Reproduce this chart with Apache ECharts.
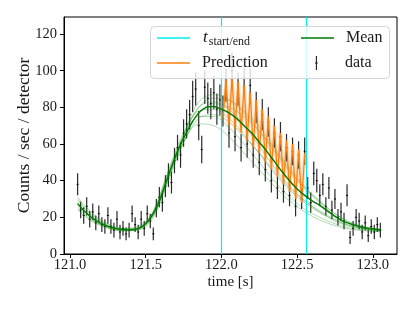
<!DOCTYPE html>
<html>
<head>
<meta charset="utf-8">
<script src="https://cdn.jsdelivr.net/npm/echarts@6/dist/echarts.min.js"></script>
<style>html,body{margin:0;padding:0;background:#fff}#c{width:415px;height:311px}</style>
</head>
<body>
<div id="c"></div>
<script>
// ---- data ----
const times = [121.05,121.07,121.09,121.11,121.13,121.15,121.17,121.19,121.21,121.23,
121.25,121.27,121.29,121.31,121.33,121.35,121.37,121.39,121.41,121.43,
121.45,121.47,121.49,121.51,121.53,121.55,121.57,121.59,121.61,121.63,
121.65,121.67,121.69,121.71,121.73,121.75,121.77,121.79,121.81,121.83,
121.85,121.87,121.89,121.91,121.93,121.95,121.97,121.99,122.01,122.03,
122.05,122.07,122.09,122.11,122.13,122.15,122.17,122.19,122.21,122.23,
122.25,122.27,122.29,122.31,122.33,122.35,122.37,122.39,122.41,122.43,
122.45,122.47,122.49,122.51,122.53,122.55,122.57,122.59,122.61,122.63,
122.65,122.67,122.69,122.71,122.73,122.75,122.77,122.79,122.81,122.83,
122.85,122.87,122.89,122.91,122.93,122.95,122.97,122.99,123.01,123.03,123.05];
const counts = [38,24,21,26,19,23,17,22,16,15,
21,15,13,19,12,14,11,13,22,16,
12,19,14,22,18,11,25,31,28,37,
43,39,51,58,54,66,71,76,86,90,
70,57,91,85,82,88,79,84,78,92,
66,100,64,90,58,96,60,92,54,80,
50,76,46,72,40,66,36,64,34,58,
32,56,26,54,30,56,36,28,44,40,
32,38,26,36,24,30,20,23,18,32,
9,14,20,18,12,17,10,15,12,16,13];
const errors = [6,4.5,4.5,5,4.5,4.5,4,4.5,4,4,
4.5,4,4,4.5,4,4,3.5,4,4.5,4,
4,4.5,4,4.5,4,3.5,5,5.5,5,6,
6.5,6,7,7,7,7.5,8,8,8.5,9,
8,7.5,9,8.5,8.5,9,8.5,8.5,8.5,9,
8,10,8,9,7.5,9.5,7.5,9,7,8.5,
7,8.5,6.5,8,6.5,8,6,8,6,7.5,
6,7.5,5.5,7.5,5.5,7.5,6,5.5,6.5,6.5,
6,6,5,6,5,5.5,4.5,5,4.5,6,
3.5,4,4.5,4.5,4,4,3.5,4,4,4,4];

const curveTimes = [121.05,121.10,121.15,121.20,121.25,121.30,121.35,121.40,121.45,121.50,
121.55,121.60,121.65,121.70,121.75,121.80,121.85,121.90,121.95,122.00,
122.05,122.10,122.15,122.20,122.25,122.30,122.35,122.40,122.45,122.50,
122.55,122.60,122.65,122.70,122.75,122.80,122.85,122.90,122.95,123.00,123.05];
const meanCurve = [27.5,23,19.5,17,15.2,14,13.3,13.1,13.8,16.5,
22,31,43,54,63,71,77,80,80.5,79,
77,74,70,66,61,56,50.5,45,40,35.5,
32,29,26.5,23.5,20.5,18,16.5,15.3,14.4,13.8,13.3];

const sampleTimes = [121.05,121.15,121.25,121.35,121.45,121.55,121.65,121.75,121.85,121.95,
122.05,122.15,122.25,122.35,122.45,122.55,122.65,122.75,122.85,122.95,123.05];
const sample1 = [31,22,16.5,14,14,21,41,64,80,85,84,78,69,58,47,37,29,22,17,14.5,13];
const sample2 = [24,17.5,14,12.5,13.5,23,45,64,75,75,69,60,50,40,31,24.5,20,16.5,14.2,13,12.5];
const sample3 = [29,20.5,15.5,13,13,20,40,61,77,82,80,75,67,57,46,36,28,21,16.5,14,13];
const sample4 = [26,18.5,14.5,13,14,23.5,46,66,78,79,74,65,55,44,35,28,22.5,18,15,13.5,12.8];
const sample5 = [28,19,14.5,13.5,14.5,22.5,42,61,74,76,72,64,55,45,36,29,23.5,19,15.5,13.8,13];
const sample6 = [25,18,15,14,15,23,44,65,80,83,79,70,59,47,37,29,23,18.5,15.5,13.8,13];
const sample7 = [27,19,14.5,12.8,13.5,22,43,61,71,70,64,55,46,37,29,23,18.5,15.5,13.5,12.6,12.2];
const sample8 = [30,21,16,13.5,13.5,21,42,65,83,87,84,77,67,56,45,36,28.5,22,17.5,14.8,13.5];
const samples = [sample1,sample2,sample3,sample4,sample5,sample6,sample7,sample8];

const predTimes = [122.01,122.03,122.05,122.07,122.09,122.11,122.13,122.15,122.17,122.19,
122.21,122.23,122.25,122.27,122.29,122.31,122.33,122.35,122.37,122.39,
122.41,122.43,122.45,122.47,122.49,122.51,122.53,122.55];
const prediction = [74,95,70,96,68,94,66,92,62,88,
58,84,55,79,50,75,46,70,42,66,
38,62,34,60,30,57,28,55];

const tStartEnd = [121.995, 122.557];
const xTicks = [121.0,121.5,122.0,122.5,123.0];
const yTicks = [0,20,40,60,80,100,120];

// ---- chart ----
const FONT = 'Liberation Serif';
const TXT = '#1a1a1a';
const HLINE = 'path://M0,0L33,0L33,1.4L0,1.4Z';
const VBAR = 'path://M0,0L0.001,0L0,0.001Z M33,15L32.999,15L33,14.999Z M15.9,0L17.1,0L17.1,15L15.9,15Z M15,7L18,7L18,8L15,8Z';

const zip = (a,b) => a.map((v,i)=>[v,b[i]]);

const series = [];
series.push({
  name:'data', type:'custom', z:1,
  itemStyle:{color:'#222'},
  data: times.map((t,i)=>[t,counts[i],errors[i]]),
  encode:{x:0,y:1},
  renderItem:(params,api)=>{
    const x=api.value(0), y=api.value(1), e=api.value(2);
    const p1=api.coord([x,y-e]), p2=api.coord([x,y+e]), c=api.coord([x,y]);
    return {type:'group',children:[
      {type:'line',shape:{x1:p1[0],y1:p1[1],x2:p2[0],y2:p2[1]},style:{stroke:'#2a2a2a',lineWidth:1.2}},
      {type:'line',shape:{x1:c[0]-1,y1:c[1],x2:c[0]+1,y2:c[1]},style:{stroke:'#000',lineWidth:1}}
    ]};
  }
});
samples.forEach((s,k)=>{
  series.push({name:'sample'+(k+1), type:'line', z:2, smooth:0.35, showSymbol:false, silent:true,
    data: zip(sampleTimes,s), lineStyle:{color:'rgba(0,128,0,0.3)',width:1}});
});
series.push({name:'predband', type:'line', z:3, showSymbol:false, silent:true,
  data: zip(predTimes,prediction), lineStyle:{color:'rgba(255,127,14,0.22)',width:3.5}});
series.push({name:'Prediction', type:'line', z:4, showSymbol:false,
  itemStyle:{color:'#ff7f0e'}, data: zip(predTimes,prediction), lineStyle:{color:'#ff7f0e',width:1.3}});
series.push({name:'Mean', type:'line', z:5, smooth:0.3, showSymbol:false,
  itemStyle:{color:'#007a00'}, data: zip(curveTimes,meanCurve), lineStyle:{color:'#007a00',width:1.4}});
series.push({name:'t_start/end', type:'line', z:6, data:[], itemStyle:{color:'#00eeee'},
  lineStyle:{color:'#00eeee'},
  markLine:{silent:true, symbol:['none','none'], label:{show:false},
    lineStyle:{color:'#00eeee',width:1.2,type:'solid'},
    data: tStartEnd.map(t=>({xAxis:t}))}});

const legendText = {
  fontFamily:FONT, fontSize:16, color:TXT, lineHeight:20,
  rich:{
    n:{fontFamily:FONT,fontSize:16,color:TXT,lineHeight:20,padding:[0,0,0,7],verticalAlign:'middle'},
    it:{fontFamily:FONT,fontSize:17,fontStyle:'italic',color:TXT,lineHeight:20,padding:[0,0,0,8],verticalAlign:'middle'},
    sub:{fontFamily:FONT,fontSize:12,color:TXT,lineHeight:10,verticalAlign:'bottom',padding:[0,0,0,1]}
  }
};
const fmt = name => name==='t_start/end' ? '{it|t}{sub|start/end}' : '{n|'+name+'}';
const mkLegend = (name, icon, left, top) => ({
  data:[{name:name,icon:icon}], orient:'vertical', left:left, top:top,
  itemWidth:33, itemHeight:14, itemGap:0, padding:0, selectedMode:false, z:200,
  textStyle:legendText, formatter:fmt
});

const chart = echarts.init(document.getElementById('c'), null, {renderer:'canvas'});
chart.setOption({
  animation:false,
  backgroundColor:'#fff',
  grid:{left:64,right:18,top:17,bottom:57,show:true,borderColor:'#000',borderWidth:1,backgroundColor:'transparent'},
  xAxis:{type:'value',min:120.96,max:123.16,
    name:'time [s]',nameLocation:'middle',nameGap:21,nameMoveOverlap:false,
    nameTextStyle:{fontFamily:FONT,fontSize:15,color:TXT},
    axisLine:{show:true,onZero:false,lineStyle:{color:'#000',width:1}},
    axisTick:{show:true,inside:false,length:4,lineStyle:{color:'#000'},customValues:xTicks},
    axisLabel:{fontFamily:FONT,fontSize:14.5,color:TXT,margin:4,customValues:xTicks,
      formatter:v=>Number(v).toFixed(1)},
    splitLine:{show:false}},
  yAxis:{type:'value',min:0,max:129.3,
    name:'Counts / sec / detector',nameLocation:'middle',nameGap:31,nameRotate:90,nameMoveOverlap:false,
    nameTextStyle:{fontFamily:FONT,fontSize:17.5,color:TXT,verticalAlign:'bottom'},
    axisLine:{show:true,onZero:false,lineStyle:{color:'#000',width:1}},
    axisTick:{show:true,inside:false,length:4,lineStyle:{color:'#000'},customValues:yTicks},
    axisLabel:{fontFamily:FONT,fontSize:14.5,color:TXT,margin:7,customValues:yTicks},
    splitLine:{show:false}},
  graphic:[{type:'rect',z:100,zlevel:0,left:150,top:26,
    shape:{width:239,height:52,r:4},
    style:{fill:'rgba(255,255,255,0.8)',stroke:'#d6d6d6',lineWidth:1}}],
  legend:[
    mkLegend('t_start/end', HLINE, 157, 28),
    mkLegend('Prediction', HLINE, 157, 53),
    mkLegend('Mean', HLINE, 301, 28),
    mkLegend('data', VBAR, 301, 53)
  ],
  series:series
});
</script>
</body>
</html>
